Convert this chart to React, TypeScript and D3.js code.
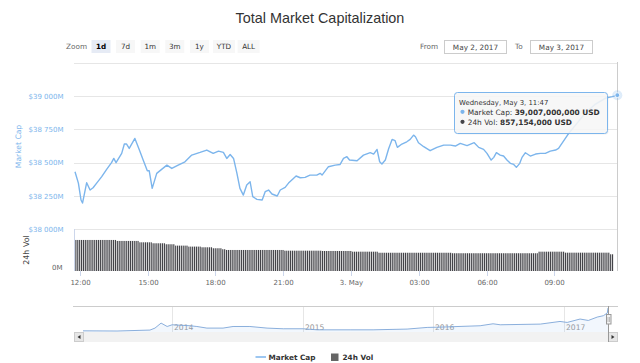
import React from 'react';
import * as d3 from 'd3';

const W = 640;
const H = 363;

// ---- Market cap (millions USD), minutes after 2017-05-02 11:47 UTC ----
const capOffsetMin = [
  0, 9, 16, 20, 31, 40, 48, 57, 71, 84, 97, 103, 109, 124, 131, 137, 144, 159, 171, 181,
  192, 197, 205, 217, 230, 244, 257, 274, 292, 310, 332, 350, 367, 381, 394, 403, 412, 421, 430, 438,
  447, 456, 465, 472, 483, 497, 505, 514, 523, 537, 545, 558, 567, 580, 587, 598, 611, 624, 642, 651,
  656, 673, 691, 704, 713, 722, 729, 749, 766, 784, 793, 802, 809, 815, 824, 833, 842, 850, 856, 868,
  881, 890, 899, 904, 912, 926, 943, 961, 979, 997, 1010, 1023, 1041, 1060, 1072, 1085, 1094, 1105, 1112, 1119,
  1129, 1138, 1147, 1156, 1165, 1172, 1181, 1187, 1196, 1209, 1223, 1236, 1249, 1262, 1276, 1284, 1293, 1302, 1311, 1329,
  1355, 1382, 1409, 1427, 1440,
];
const capValueM = [
  38432, 38347, 38220, 38197, 38350, 38295, 38312, 38345, 38395, 38450, 38500, 38532, 38500, 38570, 38640, 38640, 38607, 38682, 38595, 38520,
  38440, 38440, 38307, 38420, 38450, 38482, 38457, 38482, 38507, 38557, 38577, 38595, 38570, 38587, 38577, 38532, 38562, 38532, 38420, 38307,
  38257, 38332, 38357, 38245, 38225, 38220, 38282, 38295, 38265, 38250, 38295, 38315, 38347, 38382, 38400, 38387, 38390, 38407, 38407, 38420,
  38407, 38470, 38482, 38487, 38532, 38545, 38520, 38515, 38557, 38575, 38565, 38600, 38507, 38490, 38520, 38607, 38675, 38665, 38615, 38640,
  38657, 38675, 38707, 38695, 38650, 38620, 38590, 38615, 38632, 38632, 38625, 38645, 38628, 38650, 38615, 38600, 38570, 38520, 38540, 38575,
  38557, 38550, 38520, 38495, 38487, 38465, 38495, 38540, 38575, 38550, 38565, 38570, 38570, 38587, 38595, 38607, 38645, 38682, 38720, 38782,
  38872, 38940, 38985, 38996, 39007,
];

// ---- 24h volume (millions USD), one bar per 5 minutes ----
const volStepMin = 5;
const volValueM = [
  1590, 1590, 1590, 1590, 1590, 1590, 1590, 1590, 1590, 1590, 1590, 1590, 1590, 1590, 1590, 1590, 1590, 1590, 1590, 1590, 1590, 1590, 1540, 1540,
  1540, 1540, 1540, 1540, 1540, 1540, 1540, 1540, 1540, 1540, 1470, 1470, 1470, 1470, 1470, 1470, 1470, 1420, 1420, 1420, 1420, 1420, 1420, 1420,
  1370, 1370, 1370, 1370, 1370, 1300, 1300, 1300, 1300, 1300, 1300, 1300, 1250, 1250, 1250, 1250, 1250, 1250, 1250, 1215, 1215, 1215, 1215, 1215,
  1215, 1165, 1165, 1165, 1165, 1165, 1115, 1115, 1077, 1077, 1077, 1077, 1077, 1077, 1077, 1077, 1077, 1077, 1077, 1077, 1077, 1077, 1077, 1077,
  1077, 1077, 1077, 1077, 1077, 1077, 1077, 1077, 1077, 1077, 1077, 1077, 1077, 1077, 1077, 1041, 1041, 1041, 1041, 1041, 1041, 1041, 1041, 1041,
  1041, 1041, 1041, 1041, 1041, 1041, 1041, 1041, 1041, 1041, 1041, 1026, 1026, 1026, 1026, 1026, 1026, 1026, 1026, 1026, 1026, 1026, 1026, 1026,
  1026, 1026, 1026, 990, 990, 990, 990, 990, 990, 990, 990, 990, 990, 990, 990, 990, 990, 935, 935, 935, 935, 935, 935, 935,
  935, 935, 935, 935, 935, 935, 935, 935, 935, 935, 935, 935, 935, 935, 935, 935, 935, 935, 935, 935, 935, 935, 935, 935,
  935, 935, 935, 935, 935, 935, 935, 935, 910, 910, 910, 910, 910, 910, 910, 910, 910, 910, 910, 910, 910, 910, 910, 910,
  910, 910, 910, 910, 910, 910, 910, 910, 910, 910, 910, 910, 910, 910, 910, 910, 910, 910, 910, 910, 910, 910, 910, 910,
  910, 910, 910, 910, 910, 910, 990, 990, 990, 990, 990, 990, 990, 990, 990, 990, 990, 990, 990, 990, 939, 939, 939, 939,
  939, 939, 939, 939, 939, 939, 939, 939, 939, 939, 939, 939, 939, 939, 939, 939, 939, 939, 939, 939, 857, 857,
];

// ---- Navigator: full history (billions USD) ----
const navDates = [
  '2013-04-28', '2013-08-01', '2013-11-01', '2013-11-15', '2013-12-02', '2013-12-19', '2014-01-02', '2014-02-21',
  '2014-03-12', '2014-04-09', '2014-05-24', '2014-06-21', '2014-08-07', '2014-09-24', '2014-11-08', '2015-01-03',
  '2015-02-11', '2015-05-14', '2015-07-17', '2015-10-20', '2015-12-15', '2016-01-20', '2016-05-11', '2016-06-16',
  '2016-07-06', '2016-10-26', '2016-12-20', '2017-01-09', '2017-02-14', '2017-03-09', '2017-04-03', '2017-04-20',
  '2017-05-01', '2017-05-03',
];
const navValueB = [
  1.5, 1.2, 2.7, 5.9, 14.0, 8.5, 11.3, 9.7,
  8.5, 5.9, 5.9, 8.5, 8.5, 5.9, 4.8, 4.8,
  3.1, 3.1, 3.1, 4.3, 7.0, 7.5, 9.7, 12.9,
  11.3, 12.4, 16.7, 15.1, 20.6, 18.3, 23.8, 26.0,
  30.4, 38.5,
];
const navYears = ['2014', '2015', '2016', '2017'];

const yTickValues = [38000, 38250, 38500, 38750, 39000, 39250];
const xTickTimes = [
  '2017-05-02T12:00:00Z', '2017-05-02T15:00:00Z', '2017-05-02T18:00:00Z', '2017-05-02T21:00:00Z',
  '2017-05-03T00:00:00Z', '2017-05-03T03:00:00Z', '2017-05-03T06:00:00Z', '2017-05-03T09:00:00Z',
];
const xTickLabels = ['12:00', '15:00', '18:00', '21:00', '3. May', '03:00', '06:00', '09:00'];
const zoomButtons = ['1d', '7d', '1m', '3m', '1y', 'YTD', 'ALL'];
const startTime = '2017-05-02T11:47:00Z';
const endTime = '2017-05-03T11:47:00Z';
const tooltipHeader = 'Wednesday, May 3, 11:47';

const FONT = '"DejaVu Sans", Verdana, sans-serif';
const CAP_COLOR = '#7cb5ec';
const VOL_COLOR = '#434348';

export default function App() {
  const t0 = new Date(startTime);
  const t1 = new Date(endTime);
  const x = d3.scaleUtc().domain([t0, t1]).range([75, 617.3]);
  const y = d3.scaleLinear().domain([38000, 39250]).range([229.3, 62.8]);
  const yVol = d3.scaleLinear().domain([0, 2100]).range([271, 230]);

  const capData = capOffsetMin.map((m, i) => ({ t: d3.utcMinute.offset(t0, m), v: capValueM[i] }));
  const volData = volValueM.map((v, i) => ({ t: d3.utcMinute.offset(t0, i * volStepMin), v }));

  const line = d3
    .line<{ t: Date; v: number }>()
    .x((d) => x(d.t))
    .y((d) => y(d.v));

  const navParsed = navDates.map((s, i) => ({ t: d3.utcParse('%Y-%m-%d')(s) as Date, v: navValueB[i] }));
  const xNav = d3
    .scaleUtc()
    .domain(d3.extent(navParsed, (d) => d.t) as [Date, Date])
    .range([83, 608]);
  const yNav = d3
    .scaleLinear()
    .domain(d3.extent(navParsed, (d) => d.v) as [number, number])
    .range([331, 308]);
  const navLine = d3
    .line<{ t: Date; v: number }>()
    .x((d) => xNav(d.t))
    .y((d) => yNav(d.v));
  const navArea = d3
    .area<{ t: Date; v: number }>()
    .x((d) => xNav(d.t))
    .y0(332)
    .y1((d) => yNav(d.v));

  const fmtY = (v: number) => '$' + d3.format(',')(v).replace(/,/g, ' ') + 'M';

  const last = capData[capData.length - 1];
  const lastX = x(last.t);
  const lastY = y(last.v);
  const barW = 1.15;

  return (
    <svg
      width={W}
      height={H}
      viewBox={`0 0 ${W} ${H}`}
      style={{ position: 'absolute', left: 0, top: 0, background: '#fff' }}
      fontFamily={FONT}
    >
      <rect x={0} y={0} width={W} height={H} fill="#fff" />

      {/* Title */}
      <text x={320} y={23} textAnchor="middle" fontFamily='"Liberation Sans", Arial, sans-serif' fontSize={14.4} fill="#333">
        Total Market Capitalization
      </text>

      {/* Range selector */}
      <text x={66} y={48.5} fontSize={7.3} fill="#666">Zoom</text>
      {zoomButtons.map((b, i) => {
        const cx = 101 + i * 24.6;
        const w = b.length > 2 ? 22 : 19;
        const sel = i === 0;
        return (
          <g key={b}>
            <rect x={cx - w / 2} y={40} width={w} height={13} fill={sel ? '#e6ebf5' : '#f7f7f7'} />
            <text x={cx} y={48.8} textAnchor="middle" fontSize={7.2} fontWeight={sel ? 'bold' : 'normal'} fill={sel ? '#000' : '#333'}>
              {b}
            </text>
          </g>
        );
      })}
      <text x={420} y={48.8} fontSize={7.3} fill="#666">From</text>
      <rect x={444.5} y={40.5} width={62} height={13} fill="#fff" stroke="#ccc" />
      <text x={475.5} y={49.5} textAnchor="middle" fontSize={7.3} fill="#444">May 2, 2017</text>
      <text x={515} y={48.8} fontSize={7.3} fill="#666">To</text>
      <rect x={530.5} y={40.5} width={62} height={13} fill="#fff" stroke="#ccc" />
      <text x={561.5} y={49.5} textAnchor="middle" fontSize={7.3} fill="#444">May 3, 2017</text>

      {/* Grid lines */}
      {yTickValues.map((v) => (
        <line key={v} x1={74} x2={618} y1={Math.round(y(v)) + 0.5} y2={Math.round(y(v)) + 0.5} stroke="#e6e6e6" />
      ))}
      {yTickValues
        .filter((v) => v < 39250)
        .map((v) => (
          <text key={'l' + v} x={63.5} y={y(v) + 2.5} textAnchor="end" fontSize={7} fill={CAP_COLOR}>
            {fmtY(v)}
          </text>
        ))}
      <text
        transform={`translate(20.5,146.5) rotate(-90)`}
        textAnchor="middle"
        fontSize={7.6}
        fill={CAP_COLOR}
      >
        Market Cap
      </text>

      {/* Volume panel */}
      <line x1={74.5} x2={74.5} y1={229} y2={271} stroke="#ccd6eb" />
      <g fill={VOL_COLOR}>
        {volData.map((d, i) => (
          <rect key={i} x={x(d.t) - barW / 2 + 0.9} y={yVol(d.v)} width={barW} height={yVol(0) - yVol(d.v)} />
        ))}
      </g>
      <text x={62.5} y={269.5} textAnchor="end" fontSize={7} fill="#666">0M</text>
      <text transform={`translate(28.5,250) rotate(-90)`} textAnchor="middle" fontSize={7.9} fill="#444">
        24h Vol
      </text>

      {/* X axis */}
      {xTickTimes.map((s, i) => {
        const tx = Math.round(x(new Date(s))) + 0.5;
        return (
          <g key={s}>
            <line x1={tx} x2={tx} y1={271} y2={276} stroke="#ccd6eb" />
            <text x={tx} y={284.5} textAnchor="middle" fontSize={7} fill="#666">
              {xTickLabels[i]}
            </text>
          </g>
        );
      })}

      {/* Market cap line */}
      <path d={line(capData) || ''} fill="none" stroke={CAP_COLOR} strokeWidth={1.4} strokeLinejoin="round" />

      {/* Crosshair */}
      <line x1={617.5} x2={617.5} y1={62} y2={271} stroke="#cccccc" />

      {/* Hover marker */}
      <circle cx={lastX} cy={lastY} r={5} fill={CAP_COLOR} opacity={0.25} />
      <circle cx={lastX} cy={lastY} r={2.4} fill={CAP_COLOR} stroke="#fff" strokeWidth={0.8} />

      {/* Tooltip */}
      <rect x={455.5} y={93.5} width={153} height={41} rx={3} fill="#000" opacity={0.06} />
      <rect x={454.5} y={92.5} width={153} height={41} rx={3} fill="rgba(247,247,247,0.88)" stroke={CAP_COLOR} />
      <text x={459} y={104.6} fontSize={6.9} fill="#333">{tooltipHeader}</text>
      <circle cx={462.5} cy={111.8} r={2.1} fill={CAP_COLOR} />
      <text x={467.7} y={114.5} fontSize={7.4} fill="#333">
        Market Cap: <tspan fontWeight="bold">{d3.format(',')(last.v * 1e6)} USD</tspan>
      </text>
      <circle cx={462.5} cy={121.8} r={2.1} fill={VOL_COLOR} />
      <text x={467.7} y={124.5} fontSize={7.4} fill="#333">
        24h Vol: <tspan fontWeight="bold">857,154,000 USD</tspan>
      </text>

      {/* Navigator */}
      {navYears.map((yr) => {
        const gx = Math.round(xNav(new Date(`${yr}-01-01T00:00:00Z`))) + 0.5;
        return (
          <g key={yr}>
            <line x1={gx} x2={gx} y1={306} y2={332} stroke="#e6e6e6" />
            <text x={gx + 1.5} y={329.5} fontSize={7.6} fill="#999">{yr}</text>
          </g>
        );
      })}
      <path d={navArea(navParsed) || ''} fill={CAP_COLOR} opacity={0.1} />
      <path d={navLine(navParsed) || ''} fill="none" stroke="#7ea6d8" strokeWidth={0.9} />
      <line x1={73} x2={618} y1={306.5} y2={306.5} stroke="#cccccc" />

      {/* Scrollbar */}
      <rect x={74} y={332} width={544} height={10} fill="#f2f2f2" />
      <rect x={74.5} y={332.5} width={9} height={9} fill="#e6e6e6" stroke="#cccccc" />
      <path d="M80.5,335 L77.5,337 L80.5,339 Z" fill="#333" />
      <rect x={608.5} y={332.5} width={9} height={9} fill="#e6e6e6" stroke="#cccccc" />
      <path d="M611.5,335 L614.5,337 L611.5,339 Z" fill="#333" />
      <line x1={608.5} x2={608.5} y1={306} y2={342} stroke="#999" />
      <rect x={606.5} y={314.5} width={4.5} height={9.5} fill="#f2f2f2" stroke="#999" />
      <line x1={608} x2={608} y1={317} y2={322} stroke="#999" strokeWidth={0.6} />
      <line x1={609.5} x2={609.5} y1={317} y2={322} stroke="#999" strokeWidth={0.6} />

      {/* Legend */}
      <line x1={255.5} x2={266} y1={357} y2={357} stroke={CAP_COLOR} strokeWidth={1.5} />
      <text x={268.5} y={359.6} fontSize={7.3} fontWeight="bold" fill="#333">Market Cap</text>
      <rect x={331} y={353.5} width={7.5} height={7.5} fill="#666" />
      <text x={342.5} y={359.6} fontSize={7.3} fontWeight="bold" fill="#333">24h Vol</text>
    </svg>
  );
}
